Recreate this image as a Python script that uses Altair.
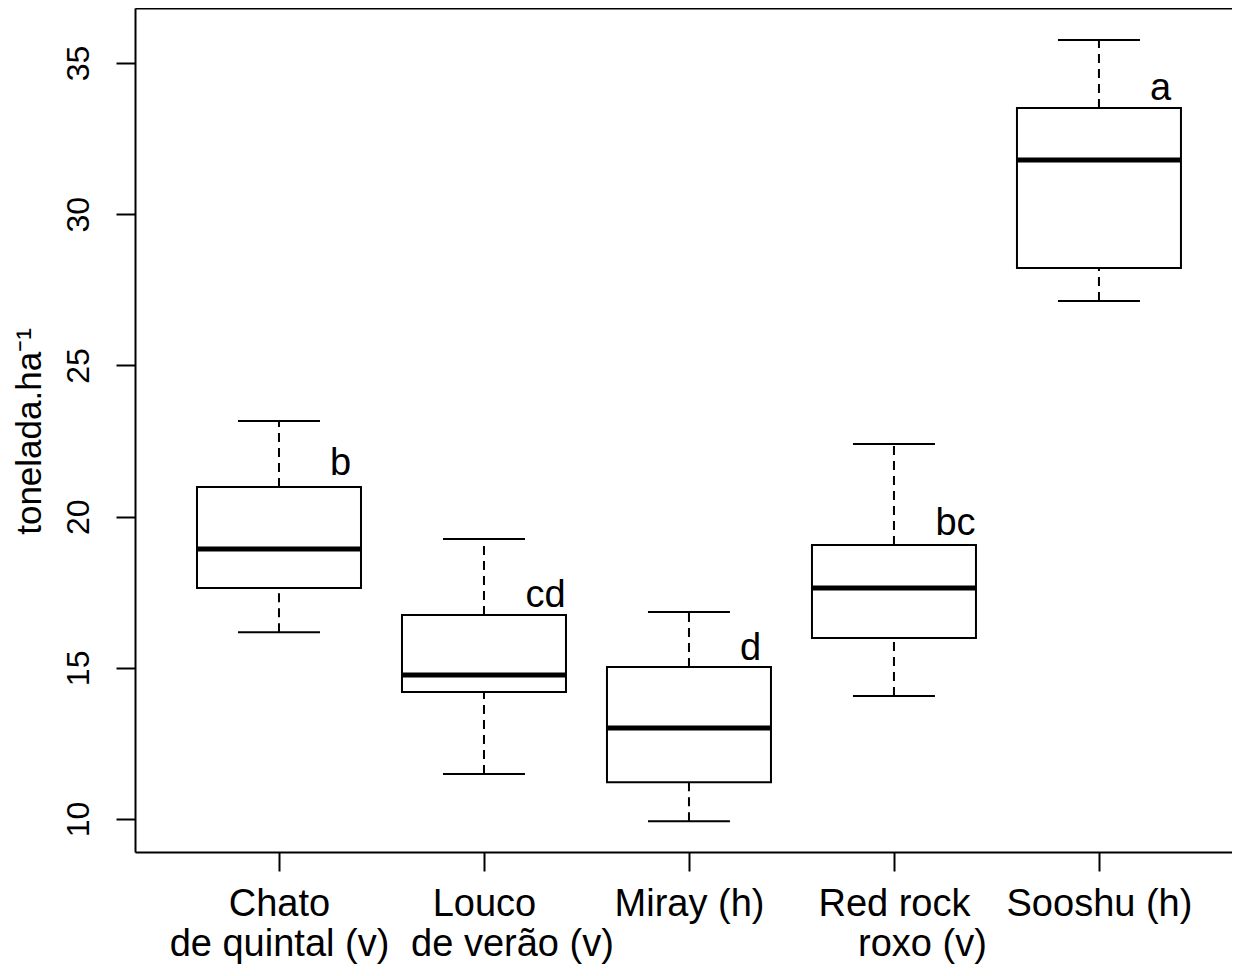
import json
import altair as alt
import pandas as pd

# ---- data ----
PAD = "\u2800"  # blank pad glyph (survives trimming) to offset second lines like the original
categories = ["Chato\nde quintal (v)",
              "Louco\n" + PAD * 2 + "de verão (v)",
              "Miray (h)",
              "Red rock\n" + PAD * 2 + "roxo (v)",
              "Sooshu (h)"]
positions = [1, 2, 3, 4, 5]
whisker_low = [16.18, 11.49, 9.93, 14.07, 27.13]
q1 = [17.64, 14.20, 11.22, 15.99, 28.22]
median = [18.93, 14.76, 13.01, 17.64, 31.79]
q3 = [20.98, 16.75, 15.03, 19.06, 33.51]
whisker_high = [23.16, 19.26, 16.85, 22.40, 35.76]
letters = ["b", "cd", "d", "bc", "a"]
letter_y = [21.38, 17.01, 15.26, 19.39, 33.78]
y_ticks = [10, 15, 20, 25, 30, 35]

df = pd.DataFrame({
    "pos": positions, "cat": categories, "lo": whisker_low, "q1": q1,
    "med": median, "q3": q3, "hi": whisker_high,
    "lab": letters, "lab_y": letter_y,
})

FONT = "Liberation Sans"
xscale = alt.Scale(domain=[0.2976, 5.649], nice=False, zero=False)
yscale = alt.Scale(domain=[8.91, 36.82], nice=False, zero=False)

label_expr = "split(" + json.dumps(categories) + "[datum.value - 1], '\\n')"

base = alt.Chart(df).transform_calculate(
    bl="datum.pos - 0.4", br="datum.pos + 0.4",
    cl="datum.pos - 0.2", cr="datum.pos + 0.2",
    tx="datum.pos + 0.3",
)

xaxis = alt.Axis(orient="bottom", values=positions, labelExpr=label_expr, title=None,
                 tickSize=19, tickWidth=2, tickColor="black",
                 domain=True, domainColor="black", domainWidth=2, grid=False,
                 labelFont=FONT, labelFontSize=38, labelColor="black",
                 labelLineHeight=40, labelBaseline="top", labelPadding=14,
                 labelAlign="center", labelFlush=False, labelOverlap=False,
                 labelLimit=600)
xaxis_top = alt.Axis(orient="top", title=None, labels=False, ticks=False,
                     domain=True, domainColor="black", domainWidth=2, grid=False)
yaxis = alt.Axis(values=y_ticks, title="tonelada.ha⁻¹",
                 tickSize=19, tickWidth=2, tickColor="black",
                 domain=True, domainColor="black", domainWidth=2, grid=False,
                 labelFont=FONT, labelFontSize=32, labelColor="black",
                 labelAngle=270, labelAlign="center", labelBaseline="alphabetic",
                 labelPadding=28, labelFlush=False, labelOverlap=False,
                 titleFont=FONT, titleFontSize=35, titleFontWeight="normal",
                 titleColor="black", titleAngle=270, titleAlign="center",
                 titleBaseline="alphabetic", titleX=-95, titleY=423)

whisk_hi = base.mark_rule(color="black", strokeWidth=2, strokeDash=[9, 6]).encode(
    x=alt.X("pos:Q", scale=xscale, axis=xaxis),
    y=alt.Y("q3:Q", scale=yscale, axis=yaxis),
    y2="hi:Q",
)
whisk_lo = base.mark_rule(color="black", strokeWidth=2, strokeDash=[9, 6]).encode(
    x=alt.X("pos:Q", scale=xscale, axis=xaxis_top),
    y=alt.Y("lo:Q", scale=yscale), y2="q1:Q",
)
cap_hi = base.mark_rule(color="black", strokeWidth=2).encode(
    x=alt.X("cl:Q", scale=xscale, axis=None), x2="cr:Q",
    y=alt.Y("hi:Q", scale=yscale),
)
cap_lo = base.mark_rule(color="black", strokeWidth=2).encode(
    x=alt.X("cl:Q", scale=xscale, axis=None), x2="cr:Q",
    y=alt.Y("lo:Q", scale=yscale),
)
box = base.mark_rect(fill="white", stroke="black", strokeWidth=2).encode(
    x=alt.X("bl:Q", scale=xscale, axis=None), x2="br:Q",
    y=alt.Y("q1:Q", scale=yscale), y2="q3:Q",
)
med = base.mark_rule(color="black", strokeWidth=5).encode(
    x=alt.X("bl:Q", scale=xscale, axis=None), x2="br:Q",
    y=alt.Y("med:Q", scale=yscale),
)
txt = base.mark_text(font=FONT, fontSize=38, color="black",
                     align="center", baseline="alphabetic").encode(
    x=alt.X("tx:Q", scale=xscale, axis=None),
    y=alt.Y("lab_y:Q", scale=yscale), text="lab:N",
)

chart = alt.layer(whisk_hi, whisk_lo, box, med, cap_hi, cap_lo, txt).resolve_axis(
    x="independent"
).properties(
    width=1097, height=844,
    autosize=alt.AutoSizeParams(type="none"),
    padding={"left": 127, "top": 0, "right": 0, "bottom": 112},
    background="white",
).configure_view(strokeWidth=0)

chart.save("out.html", embed_options={"renderer": "svg", "actions": False})
